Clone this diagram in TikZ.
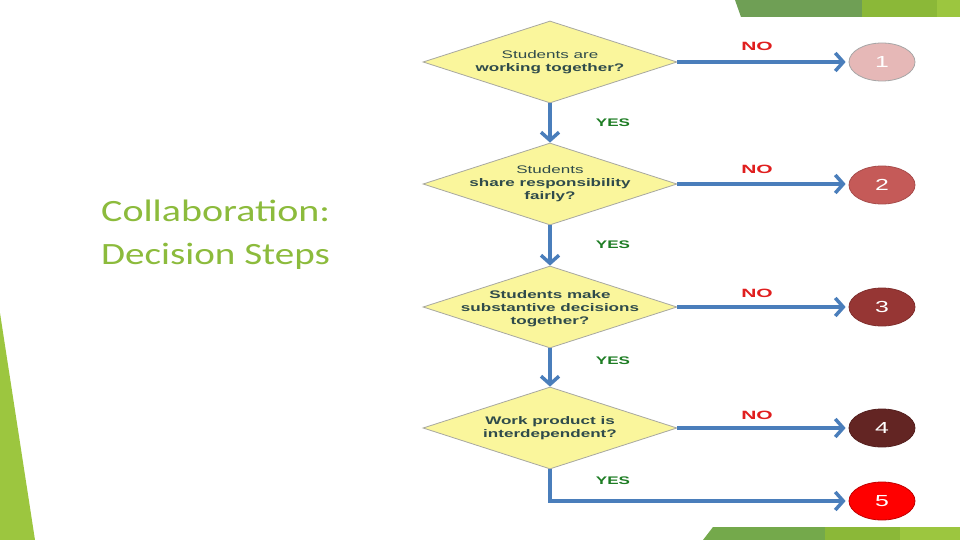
\documentclass[tikz,border=0pt]{standalone}
\usepackage{fontspec}
\usepackage{graphicx}
\setmainfont{Liberation Sans}
\newfontfamily\titlefont{Carlito}
\usetikzlibrary{shapes.geometric,arrows.meta}
\definecolor{gdark}{HTML}{6F9F55}
\definecolor{gmid}{HTML}{8BB838}
\definecolor{glight}{HTML}{9CC63F}
\definecolor{bdark}{HTML}{74A94B}
\definecolor{titlegreen}{HTML}{8CBB3C}
\definecolor{diafill}{HTML}{FAF69C}
\definecolor{diaborder}{HTML}{A8A8A0}
\definecolor{dtextcol}{HTML}{2F4B4B}
\definecolor{arrowblue}{HTML}{4A7EBB}
\definecolor{nored}{HTML}{E01E1E}
\definecolor{yesgreen}{HTML}{1E7D24}
\definecolor{eone}{HTML}{E6B8B7}
\definecolor{etwo}{HTML}{C55A58}
\definecolor{ethree}{HTML}{963634}
\definecolor{efour}{HTML}{632523}
\definecolor{efive}{HTML}{FF0000}
\newcommand{\hstr}[1]{\scalebox{1.55}[1]{#1}}
\begin{document}
\begin{tikzpicture}[x=1pt,y=-1pt,
  dec/.style={diamond, draw=diaborder, fill=diafill, line width=0.8pt,
    minimum width=254pt, minimum height=82pt, inner sep=0pt},
  dtext/.style={text=dtextcol, font=\fontsize{11}{13}\selectfont, inner sep=0pt},
  numnode/.style={ellipse, minimum width=66pt, minimum height=38pt, inner sep=0pt,
    text=white, line width=0.8pt, font=\fontsize{16}{16}\selectfont},
  arr/.style={draw=arrowblue, line width=3.5pt, -{Straight Barb[length=8pt,width=18pt]}},
  nolab/.style={text=nored, font=\bfseries\fontsize{12}{13}\selectfont, inner sep=0pt},
  yeslab/.style={text=yesgreen, font=\bfseries\fontsize{11}{13}\selectfont, inner sep=0pt}
]
\useasboundingbox (0,0) rectangle (960,540);
\fill[white] (0,0) rectangle (960,540);
% decorative green shapes
\fill[glight] (0,313) -- (35,540) -- (0,540) -- cycle;
\fill[gdark] (735,0) -- (862,0) -- (862,17) -- (741,17) -- cycle;
\fill[gmid] (862,0) rectangle (937,17);
\fill[glight] (937,0) rectangle (960,17);
\fill[bdark] (713,527) -- (825,527) -- (825,540) -- (703,540) -- cycle;
\fill[gmid] (825,527) rectangle (900,540);
\fill[glight] (900,527) rectangle (960,540);
% title
\node[anchor=base west, inner sep=0pt, text=titlegreen, font=\titlefont\fontsize{31}{43}\selectfont]
  (t1) at (101,221) {\scalebox{1.29}[1]{Collaboration:}};
\node[anchor=base west, inner sep=0pt, text=titlegreen, font=\titlefont\fontsize{31}{43}\selectfont]
  (t2) at (101,264) {\scalebox{1.26}[1]{Decision Steps}};
% diamonds
\node[dec] (d1) at (550,62) {};
\node[dec] (d2) at (550,184) {};
\node[dec] (d3) at (550,307) {};
\node[dec] (d4) at (550,428) {};
\node[dtext] (d1t) at (550,62) {\hstr{\begin{tabular}{@{}c@{}}Students are\\\textbf{working together?}\end{tabular}}};
\node[dtext] (d2t) at (550,184) {\hstr{\begin{tabular}{@{}c@{}}Students\\\textbf{share responsibility}\\\textbf{fairly?}\end{tabular}}};
\node[dtext] (d3t) at (550,309) {\hstr{\begin{tabular}{@{}c@{}}\textbf{Students make}\\\textbf{substantive decisions}\\\textbf{together?}\end{tabular}}};
\node[dtext] (d4t) at (550,428) {\hstr{\begin{tabular}{@{}c@{}}\textbf{Work product is}\\\textbf{interdependent?}\end{tabular}}};
% outcome ellipses
\node[numnode, fill=eone, draw=gray!70] (e1) at (882,62) {\hstr{1}};
\node[numnode, fill=etwo, draw=etwo!85!black] (e2) at (882,185) {\hstr{2}};
\node[numnode, fill=ethree, draw=ethree!85!black] (e3) at (882,307) {\hstr{3}};
\node[numnode, fill=efour, draw=efour!85!black] (e4) at (882,428) {\hstr{4}};
\node[numnode, fill=efive, draw=efive!75!black] (e5) at (882,501) {\hstr{5}};
% connectors
\draw[arr] (d1.south) -- (d2.north);
\draw[arr] (d2.south) -- (d3.north);
\draw[arr] (d3.south) -- (d4.north);
\draw[arr, shorten >=3pt] (d1.east) -- (d1.east -| e1.west);
\draw[arr, shorten >=3pt] (d2.east) -- (d2.east -| e2.west);
\draw[arr, shorten >=3pt] (d3.east) -- (d3.east -| e3.west);
\draw[arr, shorten >=3pt] (d4.east) -- (d4.east -| e4.west);
\draw[arr, shorten >=3pt] (d4.south) |- (e5.west);
% labels
\node[nolab] (no1) at (757,46) {\scalebox{1.75}[1]{NO}};
\node[nolab] (no2) at (757,169) {\scalebox{1.75}[1]{NO}};
\node[nolab] (no3) at (757,293) {\scalebox{1.75}[1]{NO}};
\node[nolab] (no4) at (757,415) {\scalebox{1.75}[1]{NO}};
\node[yeslab] (y1) at (613,123) {\hstr{YES}};
\node[yeslab] (y2) at (613,245) {\hstr{YES}};
\node[yeslab] (y3) at (613,361) {\hstr{YES}};
\node[yeslab] (y4) at (613,481) {\hstr{YES}};
\end{tikzpicture}
\end{document}
